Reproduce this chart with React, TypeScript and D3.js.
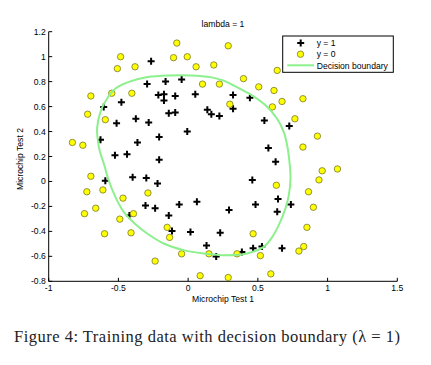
import * as d3 from 'd3';

// training data, y = 1 (accepted)
const posTest1 = [
  0.051267, -0.092742, -0.21371, -0.375, -0.51325, -0.52477, -0.39804, -0.30588, 0.016705, 0.13191,
  0.38537, 0.52938, 0.63882, 0.73675, 0.54666, 0.322, 0.16647, -0.046659, -0.17339, -0.47869,
  -0.60541, -0.62846, -0.59389, -0.42108, -0.11578, 0.20104, 0.46601, 0.67339, -0.13882, -0.29435,
  -0.26555, -0.16187, -0.17339, -0.28283, -0.36348, -0.30012, -0.23675, -0.06394, 0.062788, 0.22984,
  0.2932, 0.48329, 0.64459, 0.46025, 0.6273, 0.57546, 0.72523, 0.22408, 0.44297, 0.322,
  0.13767, -0.0063364, -0.092742, -0.20795, -0.20795, -0.43836, -0.21947, -0.13882
];
const posTest2 = [
  0.69956, 0.68494, 0.69225, 0.50219, 0.46564, 0.2098, 0.034357, -0.19225, -0.40424, -0.51389,
  -0.56506, -0.5212, -0.24342, -0.18494, 0.48757, 0.5826, 0.53874, 0.81652, 0.69956, 0.63377,
  0.59722, 0.33406, 0.005117, -0.27266, -0.39693, -0.60161, -0.53582, -0.53582, 0.54605, 0.77997,
  0.96272, 0.8019, 0.64839, 0.47295, 0.31213, 0.027047, -0.21418, -0.18494, -0.16301, -0.41155,
  -0.2288, -0.18494, -0.14108, 0.012427, 0.15863, 0.26827, 0.44371, 0.52412, 0.67032, 0.69225,
  0.57529, 0.39985, 0.55336, 0.35599, 0.17325, 0.21711, -0.016813, -0.27266
];

// training data, y = 0 (rejected)
const negTest1 = [
  0.18376, 0.22408, 0.29896, 0.50634, 0.61578, 0.60426, 0.76555, 0.92684, 0.82316, 0.96141,
  0.93836, 0.86348, 0.89804, 0.85196, 0.82892, 0.79435, 0.59274, 0.51786, 0.46601, 0.35081,
  0.28744, 0.085829, 0.14919, -0.13306, -0.40956, -0.39228, -0.74366, -0.69758, -0.75518, -0.69758,
  -0.4038, -0.38076, -0.50749, -0.54781, 0.10311, 0.057028, -0.10464, -0.081221, 0.28744, 0.39689,
  0.63882, 0.82316, 0.67339, 1.0709, -0.046659, -0.23675, -0.15035, -0.49021, -0.46717, -0.28859,
  -0.61118, -0.66302, -0.59965, -0.72638, -0.83007, -0.72062, -0.59389, -0.48445, -0.0063364, 0.63265
];
const negTest2 = [
  0.93348, 0.77997, 0.61915, 0.75804, 0.7288, 0.59722, 0.50219, 0.3633, 0.27558, 0.085526,
  0.012427, -0.082602, -0.20687, -0.36769, -0.5212, -0.55775, -0.7405, -0.5943, -0.41886, -0.57968,
  -0.76974, -0.75512, -0.57968, -0.4481, -0.41155, -0.25804, -0.25804, 0.041667, 0.2902, 0.68494,
  0.70687, 0.91886, 0.90424, 0.70687, 0.77997, 0.91886, 0.99196, 1.1089, 1.087, 0.82383,
  0.88962, 0.66301, 0.64108, 0.10015, -0.57968, -0.63816, -0.36769, -0.3019, -0.13377, -0.0921,
  -0.067982, -0.21418, -0.41886, -0.082602, 0.31213, 0.53874, 0.49488, 0.99927, 0.99927, -0.030612
];

// decision boundary, traced clockwise from the left side
const boundaryX = [
  -0.653, -0.629, -0.581, -0.521, -0.42, -0.29, -0.13, 0.016, 0.16, 0.25, 0.316, 0.435, 0.555,
  0.638, 0.686, 0.71, 0.729, 0.734, 0.722, 0.698, 0.65, 0.6, 0.542, 0.423, 0.28, 0.112, -0.032,
  -0.175, -0.294, -0.39, -0.462, -0.522, -0.57, -0.605, -0.633, -0.646
];
const boundaryY = [
  0.425, 0.558, 0.665, 0.745, 0.8, 0.837, 0.85, 0.85, 0.836, 0.81, 0.775, 0.705, 0.61,
  0.502, 0.395, 0.29, 0.131, 0.024, -0.11, -0.216, -0.35, -0.45, -0.524, -0.577, -0.591, -0.577, -0.55,
  -0.497, -0.417, -0.33, -0.244, -0.123, 0.01, 0.144, 0.24, 0.317
];

const xTicks = [-1, -0.5, 0, 0.5, 1, 1.5];
const xTickLabels = ['-1', '-0.5', '0', '0.5', '1', '1.5'];
const yTicks = [-0.8, -0.6, -0.4, -0.2, 0, 0.2, 0.4, 0.6, 0.8, 1, 1.2];
const yTickLabels = ['-0.8', '-0.6', '-0.4', '-0.2', '0', '0.2', '0.4', '0.6', '0.8', '1', '1.2'];

const W = 431;
const H = 365;
const plot = { left: 48.7, right: 397.3, top: 31.7, bottom: 281.3 };
const FONT = '"Liberation Sans", Arial, sans-serif';
const GREEN = '#8cf08c';
const TICK = 3.5;

const Plus = ({ x, y, s = 3.5 }: { x: number; y: number; s?: number }) => (
  <path d={`M${x - s},${y}H${x + s}M${x},${y - s}V${y + s}`} stroke="#000" strokeWidth={2} fill="none" />
);

const Dot = ({ x, y }: { x: number; y: number }) => (
  <circle cx={x} cy={y} r={3.2} fill="#ffff00" stroke="#77772f" strokeWidth={0.8} />
);

export default function App() {
  const x = d3.scaleLinear().domain([-1, 1.5]).range([plot.left, plot.right]);
  const y = d3.scaleLinear().domain([-0.8, 1.2]).range([plot.bottom, plot.top]);

  const boundary = boundaryX.map((bx, i) => [bx, boundaryY[i]] as [number, number]);
  const boundaryPath = d3
    .line<[number, number]>()
    .x(d => x(d[0]))
    .y(d => y(d[1]))
    .curve(d3.curveCatmullRomClosed.alpha(0.5))(boundary);

  const cx = (plot.left + plot.right) / 2;

  // legend box
  const lg = { x: 282.7, y: 36, w: 110.6, h: 36.3 };

  return (
    <svg width={W} height={H} style={{ position: 'absolute', left: 0, top: 0, background: '#fff' }}>
      <rect width={W} height={H} fill="#fff" />

      {/* axes */}
      <g fontFamily={FONT} fontSize={8.6} fill="#000">
        <line x1={plot.left} x2={plot.right} y1={plot.bottom} y2={plot.bottom} stroke="#000" />
        <line x1={plot.left} x2={plot.left} y1={plot.top} y2={plot.bottom} stroke="#000" />
        {xTicks.map((t, i) => (
          <g key={`xt${i}`}>
            <line x1={x(t)} x2={x(t)} y1={plot.bottom} y2={plot.bottom - TICK} stroke="#000" />
            <text x={x(t)} y={290.8} textAnchor="middle">
              {xTickLabels[i]}
            </text>
          </g>
        ))}
        {yTicks.map((t, i) => (
          <g key={`yt${i}`}>
            <line x1={plot.left} x2={plot.left + TICK} y1={y(t)} y2={y(t)} stroke="#000" />
            <text x={45.8} y={y(t)} dy="0.35em" textAnchor="end">
              {yTickLabels[i]}
            </text>
          </g>
        ))}
        <text x={cx} y={26.5} textAnchor="middle">
          lambda = 1
        </text>
        <text x={cx} y={301.5} textAnchor="middle">
          Microchip Test 1
        </text>
        <text transform={`translate(23.3,159) rotate(-90)`} textAnchor="middle">
          Microchip Test 2
        </text>
      </g>

      {/* data */}
      {posTest1.map((p, i) => (
        <Plus key={`p${i}`} x={x(p)} y={y(posTest2[i])} />
      ))}
      {negTest1.map((n, i) => (
        <Dot key={`n${i}`} x={x(n)} y={y(negTest2[i])} />
      ))}

      {/* decision boundary */}
      <path d={boundaryPath ?? ''} fill="none" stroke={GREEN} strokeWidth={2} />

      {/* legend */}
      <g fontFamily={FONT} fontSize={8.6}>
        <rect x={lg.x} y={lg.y} width={lg.w} height={lg.h} fill="#fff" stroke="#000" strokeWidth={1} />
        <Plus x={300.7} y={43} />
        <Dot x={300.5} y={54.2} />
        <line x1={287.3} x2={314} y1={65.3} y2={65.3} stroke={GREEN} strokeWidth={2} />
        <text x={316.7} y={46.2}>y = 1</text>
        <text x={316.7} y={57.4}>y = 0</text>
        <text x={316.7} y={68.8}>Decision boundary</text>
      </g>

      {/* caption */}
      <text
        x={14}
        y={341.5}
        fontFamily='"Liberation Serif", "Times New Roman", serif'
        fontSize={16.5}
        fill="#222"
        textLength={386}
        lengthAdjust="spacing"
      >
        Figure 4: Training data with decision boundary (λ = 1)
      </text>
    </svg>
  );
}
